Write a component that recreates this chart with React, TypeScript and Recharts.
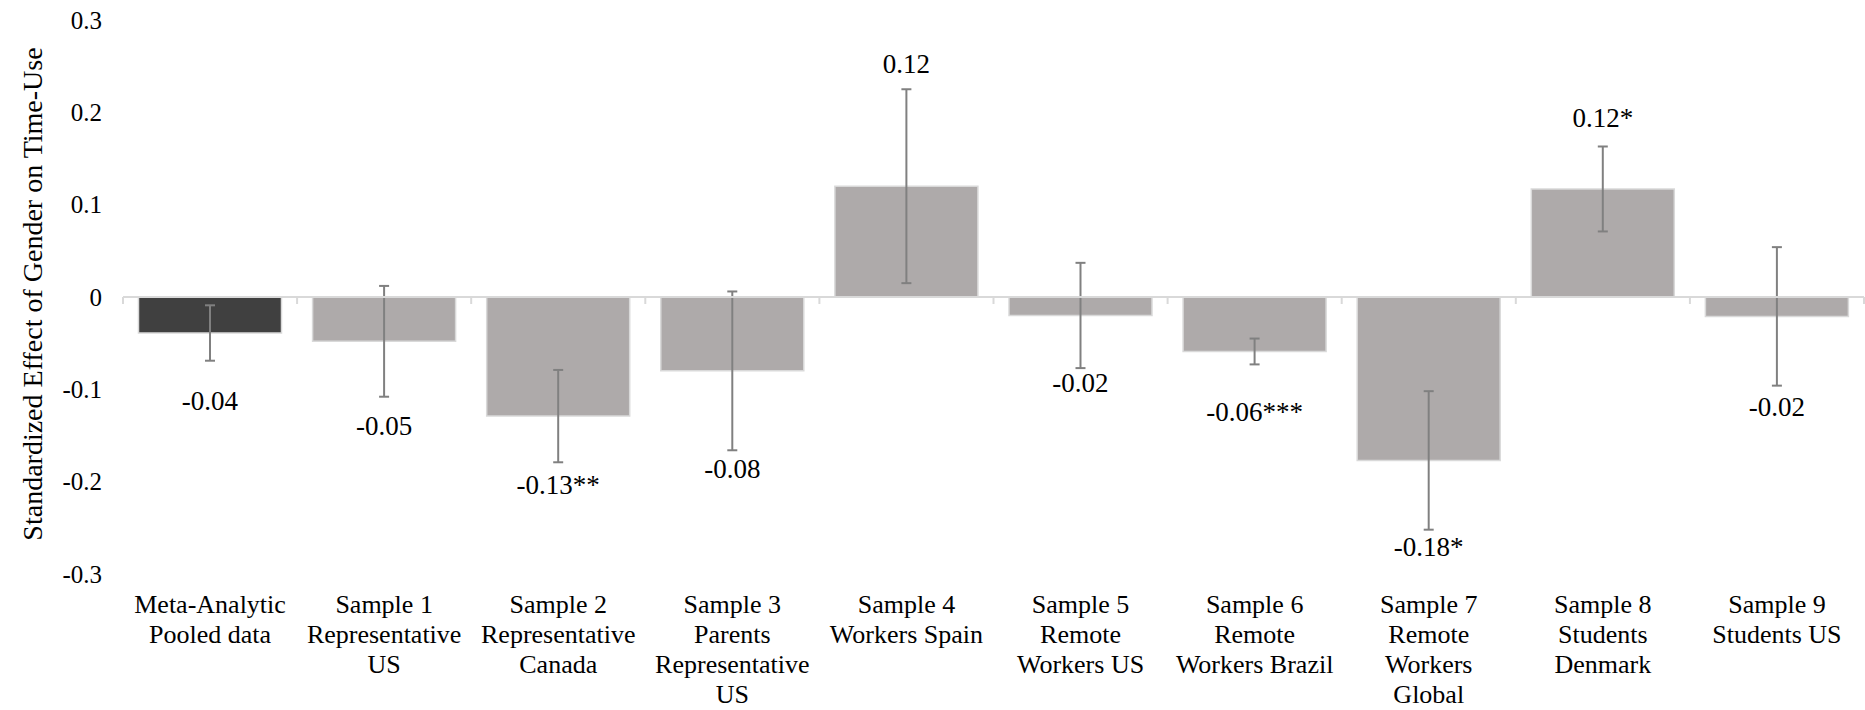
import React from 'react';
import { BarChart, Bar, XAxis, YAxis, ErrorBar, Cell, ReferenceLine, LabelList } from 'recharts';

// ---- data ----
const categoryLines: string[][] = [
  ['Meta-Analytic', 'Pooled data'],
  ['Sample 1', 'Representative', 'US'],
  ['Sample 2', 'Representative', 'Canada'],
  ['Sample 3', 'Parents', 'Representative', 'US'],
  ['Sample 4', 'Workers Spain'],
  ['Sample 5', 'Remote', 'Workers US'],
  ['Sample 6', 'Remote', 'Workers Brazil'],
  ['Sample 7', 'Remote', 'Workers', 'Global'],
  ['Sample 8', 'Students', 'Denmark'],
  ['Sample 9', 'Students US'],
];
const effects = [-0.039, -0.048, -0.129, -0.08, 0.12, -0.02, -0.059, -0.177, 0.117, -0.021];
const errors = [0.03, 0.06, 0.05, 0.086, 0.105, 0.057, 0.014, 0.075, 0.046, 0.075];
const valueLabels = ['-0.04', '-0.05', '-0.13**', '-0.08', '0.12', '-0.02', '-0.06***', '-0.18*', '0.12*', '-0.02'];
const yTicks = [-0.3, -0.2, -0.1, 0, 0.1, 0.2, 0.3];
const yTitle = 'Standardized Effect of Gender on Time-Use';

// ---- layout / style ----
const FONT = 'Liberation Serif';
const TEXT_STYLE = { fontFamily: FONT };
const Y_AXIS_WIDTH = 123;
const Y_TICK_GAP = 21;
const LABEL_GAP_PX = [40, 29, 22, 18, 26, 14, 47, 17, 29, 21];
const POOLED_COLOR = '#404040';
const SAMPLE_COLOR = '#AEAAAA';

const rows = categoryLines.map((lines, i) => ({
  name: lines.join(' '),
  effect: effects[i],
  err: errors[i],
}));

const CategoryTick = (props: any) => {
  const { x, y, index, payload } = props;
  const idx = typeof payload?.index === 'number' ? payload.index : index;
  const lines = categoryLines[idx] || [];
  return (
    <text x={x} y={y} textAnchor="middle" fontSize={26} fill="#000" style={TEXT_STYLE}>
      {lines.map((l, i) => (
        <tspan key={i} x={x} dy={i === 0 ? 39 : 30}>
          {l}
        </tspan>
      ))}
    </text>
  );
};

const ValueTick = (props: any) => {
  const { y, payload } = props;
  const v = payload.value as number;
  const txt = v === 0 ? '0' : v.toFixed(1);
  const x = Y_AXIS_WIDTH - Y_TICK_GAP;
  return (
    <text x={x} y={y} dy="0.35em" textAnchor="end" fontSize={25} fill="#000" style={TEXT_STYLE}>
      {txt}
    </text>
  );
};

const ZeroAxis = (props: any) => {
  const { x1, x2, y1 } = props;
  const n = categoryLines.length;
  const bw = (x2 - x1) / n;
  const marks = Array.from({ length: n + 1 }, (_, i) => x1 + i * bw);
  return (
    <g>
      <line x1={x1} x2={x2} y1={y1} y2={y1} stroke="#D9D9D9" strokeWidth={2} />
      {marks.map((m, i) => (
        <line key={i} x1={m} x2={m} y1={y1} y2={y1 + 7} stroke="#D9D9D9" strokeWidth={2} />
      ))}
    </g>
  );
};

const ValueLabel = (props: any) => {
  const vb = props.viewBox || props;
  const index = props.index;
  const x = vb.x;
  const y = vb.y;
  const width = vb.width;
  const height = vb.height;
  const v = effects[index];
  const top = Math.min(y, y + height);
  const bottom = Math.max(y, y + height);
  const zeroY = v >= 0 ? bottom : top;
  const pxPerUnit = Math.abs(height) / Math.abs(v);
  const end = v >= 0 ? v + errors[index] : v - errors[index];
  const endY = zeroY - end * pxPerUnit;
  const cy = v >= 0 ? endY - LABEL_GAP_PX[index] : endY + LABEL_GAP_PX[index];
  return (
    <text x={x + width / 2} y={cy} dy="0.35em" textAnchor="middle" fontSize={27} fill="#000" style={TEXT_STYLE}>
      {valueLabels[index]}
    </text>
  );
};

const TitleLabel = (props: any) => {
  const vb = props.viewBox;
  const cx = 32;
  const cy = vb.y + vb.height / 2 - 3;
  return (
    <text
      x={cx}
      y={cy}
      dy="0.35em"
      textAnchor="middle"
      transform={`rotate(-90, ${cx}, ${cy})`}
      fontSize={28}
      fill="#000"
      style={TEXT_STYLE}
    >
      {yTitle}
    </text>
  );
};

export default function App() {
  return (
    <div style={{ position: 'absolute', left: 0, top: 0, width: 1865, height: 710, background: '#fff', fontFamily: FONT }}>
      <BarChart
        width={1865}
        height={710}
        data={rows}
        margin={{ top: 20, right: 1, bottom: 0, left: 0 }}
        barCategoryGap="8.9%"
      >
        <XAxis
          dataKey="name"
          interval={0}
          axisLine={false}
          tickLine={false}
          tickSize={0}
          tickMargin={0}
          height={136}
          tick={<CategoryTick />}
        />
        <YAxis
          type="number"
          domain={[-0.3, 0.3]}
          ticks={yTicks}
          width={Y_AXIS_WIDTH}
          axisLine={false}
          tickLine={false}
          tickSize={0}
          tickMargin={Y_TICK_GAP}
          tick={<ValueTick />}
          label={{ content: <TitleLabel /> }}
        />
        <Bar dataKey="effect" isAnimationActive={false} stroke="#D9D9D9" strokeWidth={1.5}>
          {rows.map((_, i) => (
            <Cell key={i} fill={i === 0 ? POOLED_COLOR : SAMPLE_COLOR} />
          ))}
          <ErrorBar dataKey="err" direction="y" width={5} stroke="#808080" strokeWidth={2} />
          <LabelList dataKey="effect" content={<ValueLabel />} />
        </Bar>
        <ReferenceLine y={0} shape={<ZeroAxis />} />
      </BarChart>
    </div>
  );
}
